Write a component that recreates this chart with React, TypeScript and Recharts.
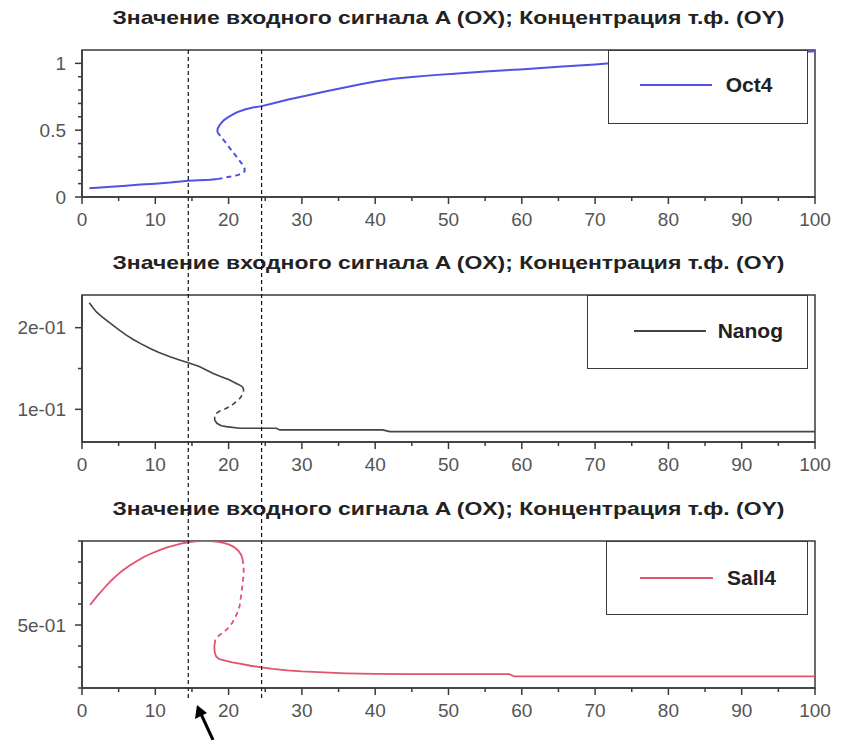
import React from 'react';
import { LineChart, Line, XAxis, YAxis, ReferenceLine, ReferenceArea, Legend } from 'recharts';

const TITLE = 'Значение входного сигнала A (OX); Концентрация т.ф. (OY)';

// x axis: ticks every 5, labels every 10
const xTicks = [0, 5, 10, 15, 20, 25, 30, 35, 40, 45, 50, 55, 60, 65, 70, 75, 80, 85, 90, 95, 100];
const xLabels = ['0', '', '10', '', '20', '', '30', '', '40', '', '50', '', '60', '', '70', '', '80', '', '90', '', '100'];

// threshold markers (dashed verticals)
const markers = [14.5, 24.5];

// Oct4
const oct4LowX = [1, 2, 4, 6, 8, 10, 12, 14.5, 16, 17.5, 18.5];
const oct4LowY = [0.065, 0.069, 0.077, 0.085, 0.093, 0.1, 0.108, 0.122, 0.126, 0.13, 0.134];
const oct4MidX = [18.5, 19.5, 20.6, 21.3, 21.8, 22.15, 22.2, 21.8, 21.1, 20.4, 19.7, 19.0, 18.46];
const oct4MidY = [0.134, 0.145, 0.156, 0.165, 0.176, 0.19, 0.21, 0.25, 0.3, 0.349, 0.4, 0.448, 0.485];
const oct4HighX = [18.46, 18.5, 18.8, 19.3, 20, 21.1, 22.2, 23.3, 24.5, 26, 28, 30.7, 33, 35.5, 38, 40, 42.5, 45, 48, 50.8, 55, 59.8, 65, 70, 72, 80, 90, 100];
const oct4HighY = [0.485, 0.51, 0.54, 0.572, 0.6, 0.633, 0.655, 0.669, 0.68, 0.7, 0.728, 0.76, 0.787, 0.815, 0.843, 0.865, 0.884, 0.898, 0.912, 0.923, 0.94, 0.955, 0.975, 0.992, 1.0, 1.03, 1.06, 1.09];
const oct4YTicks = [0, 0.1, 0.2, 0.3, 0.4, 0.5, 0.6, 0.7, 0.8, 0.9, 1];
const oct4YLabels = ['0', '', '', '', '', '0.5', '', '', '', '', '1'];

// Nanog
const nanogHighX = [1, 1.5, 2, 2.7, 3.4, 4.2, 5, 6.1, 7, 8, 9.3, 10.5, 12, 13.3, 14.5, 16, 17.9, 19, 20, 20.6, 21.4, 21.9];
const nanogHighY = [0.2305, 0.2245, 0.219, 0.2135, 0.2085, 0.203, 0.1975, 0.1905, 0.1855, 0.1805, 0.1745, 0.1695, 0.1645, 0.1605, 0.157, 0.1525, 0.144, 0.14, 0.1365, 0.1337, 0.1302, 0.1276];
const nanogMidX = [21.9, 22.05, 22.0, 21.6, 21.0, 20.3, 19.5, 18.8, 18.3, 18.1];
const nanogMidY = [0.1276, 0.124, 0.12, 0.114, 0.109, 0.104, 0.1005, 0.098, 0.095, 0.091];
const nanogLowX = [18.1, 18.1, 18.4, 19, 19.7, 21.5, 26.5, 27, 41, 42, 60, 80, 100];
const nanogLowY = [0.091, 0.087, 0.0829, 0.08, 0.0788, 0.0768, 0.0768, 0.0748, 0.0748, 0.0727, 0.0727, 0.0727, 0.0727];
const nanogYTicks = [0.1, 0.15, 0.2];
const nanogYLabels = ['1e-01', '', '2e-01'];

// Sall4
const sall4HighX = [1.1, 2, 3, 4, 4.7, 5.5, 6.5, 7.5, 8.5, 9.3, 10.5, 11.5, 12.5, 13.5, 14.5, 15.5, 16.5, 17.5, 18.5, 19.3, 20, 20.7, 21.3, 21.7, 21.9];
const sall4HighY = [0.595, 0.635, 0.675, 0.712, 0.735, 0.758, 0.783, 0.805, 0.825, 0.838, 0.855, 0.868, 0.878, 0.887, 0.894, 0.898, 0.9, 0.899, 0.896, 0.891, 0.884, 0.872, 0.855, 0.835, 0.815];
const sall4MidX = [21.9, 22.05, 22.05, 21.9, 21.7, 21.5, 21.1, 20.5, 19.8, 19.1, 18.5, 18.2];
const sall4MidY = [0.815, 0.78, 0.74, 0.69, 0.64, 0.59, 0.55, 0.51, 0.48, 0.46, 0.445, 0.43];
const sall4LowX = [18.2, 18.05, 18.1, 18.3, 18.7, 19.5, 20.5, 21.5, 23, 24.5, 26, 28, 30, 33, 36, 40, 45, 58.3, 59, 70, 80, 90, 100];
const sall4LowY = [0.43, 0.4, 0.37, 0.35, 0.338, 0.33, 0.322, 0.316, 0.306, 0.298, 0.291, 0.284, 0.279, 0.274, 0.27, 0.267, 0.266, 0.266, 0.255, 0.255, 0.255, 0.255, 0.255];
const sall4YTicks = [0.2, 0.3, 0.4, 0.5, 0.6, 0.7, 0.8, 0.9];
const sall4YLabels = ['', '', '', '5e-01', '', '', '', ''];

type Pt = { x: number; y: number };
const zip = (xs: number[], ys: number[]): Pt[] => xs.map((x, i) => ({ x, y: ys[i] }));

const TICK_SIZE = 7;
const TICK_MARGIN = 9;
const AXIS_COLOR = '#3a3a3a';
const LABEL_COLOR = '#555';
const FONT = '"Liberation Sans", Arial, sans-serif';

const CHART_W = 849;
const CHART_H = 245;
const MARGIN = { top: 50, right: 34, left: 22, bottom: 18 };

const panels = [
  {
    name: 'Oct4', color: '#5151e4', width: 2, top: 0,
    low: zip(oct4LowX, oct4LowY), mid: zip(oct4MidX, oct4MidY), high: zip(oct4HighX, oct4HighY),
    domain: [0, 1.1], yTicks: oct4YTicks, yLabels: oct4YLabels,
    legend: { left: 607.7, width: 200, lineX: 31, lineW: 72, lineY: 34, textX: 117 },
    extUp: 0, extDown: 48,
  },
  {
    name: 'Nanog', color: '#444444', width: 1.6, top: 245,
    low: zip(nanogHighX, nanogHighY), mid: zip(nanogMidX, nanogMidY), high: zip(nanogLowX, nanogLowY),
    domain: [0.06, 0.24], yTicks: nanogYTicks, yLabels: nanogYLabels,
    legend: { left: 586.7, width: 221, lineX: 46, lineW: 72, lineY: 35, textX: 130 },
    extUp: 50, extDown: 48,
  },
  {
    name: 'Sall4', color: '#e2536e', width: 1.8, top: 491,
    low: zip(sall4HighX, sall4HighY), mid: zip(sall4MidX, sall4MidY), high: zip(sall4LowX, sall4LowY),
    domain: [0.2, 0.9], yTicks: sall4YTicks, yLabels: sall4YLabels,
    legend: { left: 606, width: 202, lineX: 33, lineW: 73, lineY: 36, textX: 120 },
    extUp: 50, extDown: 10,
  },
];

const makeXTick = (props: any) => {
  const { x, y, index } = props;
  const ay = y - TICK_SIZE - TICK_MARGIN;
  const label = xLabels[index];
  const major = label !== '';
  return (
    <g>
      <line x1={x} x2={x} y1={ay} y2={ay + (major ? TICK_SIZE : 4)} stroke={AXIS_COLOR} strokeWidth={1.5} />
      {major && (
        <text x={x} y={y} dy="0.71em" textAnchor="middle" fill={LABEL_COLOR} fontSize={19} fontFamily={FONT}>
          {label}
        </text>
      )}
    </g>
  );
};

const makeYTick = (labels: string[]) => (props: any) => {
  const { x, y, index } = props;
  const ax = x + TICK_SIZE + TICK_MARGIN;
  const label = labels[index];
  const major = label !== '';
  return (
    <g>
      <line x1={ax} x2={ax - (major ? TICK_SIZE : 4)} y1={y} y2={y} stroke={AXIS_COLOR} strokeWidth={1.5} />
      {major && (
        <text x={x} y={y} dy="0.35em" textAnchor="end" fill={LABEL_COLOR} fontSize={19} fontFamily={FONT}>
          {label}
        </text>
      )}
    </g>
  );
};

const makeLegend = (lg: any) => (props: any) => {
  const item = props.payload && props.payload[0];
  if (!item) return null;
  return (
    <div style={{ position: 'relative', width: lg.width, height: 74, boxSizing: 'border-box', border: `1.5px solid ${AXIS_COLOR}`, background: '#fff' }}>
      <div style={{ position: 'absolute', left: lg.lineX, top: lg.lineY - 1, width: lg.lineW, height: 2, background: item.color }} />
      <span style={{ position: 'absolute', left: lg.textX, top: lg.lineY - 13, fontFamily: FONT, fontWeight: 'bold', fontSize: 21, color: '#222', lineHeight: '26px' }}>
        {item.value}
      </span>
    </div>
  );
};

const markerShape = (up: number, down: number) => (p: any) => (
  <line x1={p.x1} x2={p.x2} y1={Math.min(p.y1, p.y2) - up} y2={Math.max(p.y1, p.y2) + down} stroke="#111" strokeWidth={1.2} strokeDasharray="4 3" />
);

export default function App() {
  return (
    <div style={{ position: 'absolute', left: 0, top: 0, width: 849, height: 740, background: '#fff', overflow: 'hidden' }}>
      <svg width={849} height={740} style={{ position: 'absolute', left: 0, top: 0 }}>
        {panels.map((p) => (
          <text key={p.name} x={448.5} y={p.top + 24} textAnchor="middle" fontFamily={FONT} fontWeight="bold" fontSize={19} fill="#222" textLength={672} lengthAdjust="spacingAndGlyphs">
            {TITLE}
          </text>
        ))}
        <line x1={213} y1={740} x2={201} y2={714} stroke="#000" strokeWidth={3} />
        <polygon points="197,705 195,719 207,713" fill="#000" />
      </svg>
      {panels.map((p) => (
        <div key={p.name} style={{ position: 'absolute', left: 0, top: p.top }}>
          <LineChart width={CHART_W} height={CHART_H} margin={MARGIN}>
            <XAxis
              type="number"
              dataKey="x"
              domain={[0, 100]}
              ticks={xTicks}
              interval={0}
              height={30}
              tickSize={TICK_SIZE}
              tickMargin={TICK_MARGIN}
              tickLine={false}
              tick={makeXTick}
              axisLine={{ stroke: AXIS_COLOR, strokeWidth: 1.5 }}
              allowDataOverflow
            />
            <YAxis
              type="number"
              dataKey="y"
              domain={p.domain}
              ticks={p.yTicks}
              interval={0}
              width={60}
              tickSize={TICK_SIZE}
              tickMargin={TICK_MARGIN}
              tickLine={false}
              tick={makeYTick(p.yLabels)}
              axisLine={{ stroke: AXIS_COLOR, strokeWidth: 1.5 }}
              allowDataOverflow
            />
            <ReferenceArea x1={0} x2={100} y1={p.domain[0]} y2={p.domain[1]} fill="none" stroke={AXIS_COLOR} strokeWidth={1.5} ifOverflow="visible" />
            <Line data={p.low} dataKey="y" name={p.name} type="linear" stroke={p.color} strokeWidth={p.width} dot={false} activeDot={false} isAnimationActive={false} />
            <Line data={p.mid} dataKey="y" name={p.name + ' mid'} legendType="none" type="linear" stroke={p.color} strokeWidth={p.width} strokeDasharray="5 4" dot={false} activeDot={false} isAnimationActive={false} />
            <Line data={p.high} dataKey="y" name={p.name + ' high'} legendType="none" type="linear" stroke={p.color} strokeWidth={p.width} dot={false} activeDot={false} isAnimationActive={false} />
            {markers.map((m) => (
              <ReferenceLine key={m} x={m} shape={markerShape(p.extUp, p.extDown)} />
            ))}
            <Legend
              layout="vertical"
              align="center"
              verticalAlign="middle"
              content={makeLegend(p.legend)}
              wrapperStyle={{ left: p.legend.left, top: 50, width: p.legend.width, height: 74 }}
            />
          </LineChart>
        </div>
      ))}
    </div>
  );
}
